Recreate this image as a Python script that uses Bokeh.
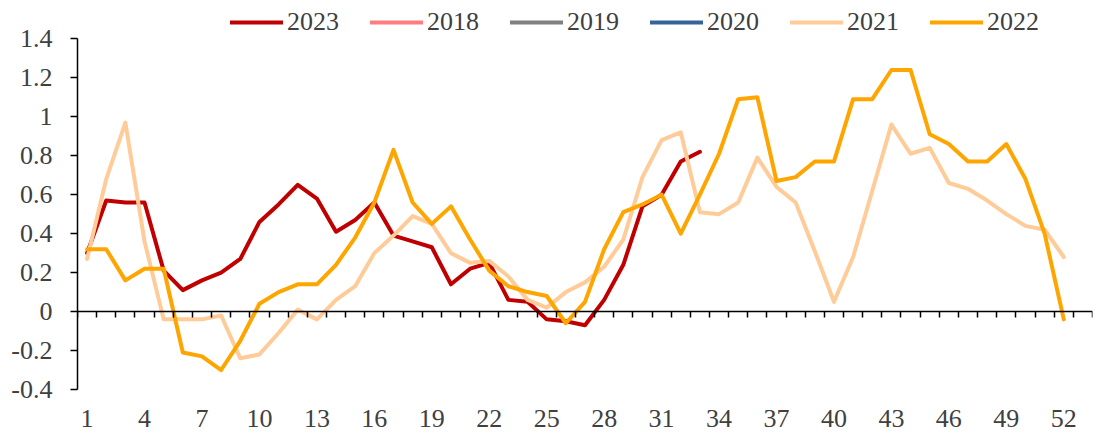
from bokeh.plotting import figure
from bokeh.models import (Range1d, FixedTicker, LinearAxis, Legend, LegendItem,
                          CustomJSTickFormatter, CustomLabelingPolicy,
                          ColumnDataSource)
from bokeh.embed import file_html
from bokeh.resources import INLINE

# ---- data ----
n_weeks = 53
x_tick_labels = list(range(1, 53, 3))          # 1, 4, ..., 52
y_ticks = [-0.4, -0.2, 0, 0.2, 0.4, 0.6, 0.8, 1.0, 1.2, 1.4]

y2023 = [0.30, 0.57, 0.56, 0.56, 0.21, 0.11, 0.16, 0.20, 0.27, 0.46,
         0.55, 0.65, 0.58, 0.41, 0.47, 0.56, 0.39, 0.36, 0.33, 0.14,
         0.22, 0.25, 0.06, 0.05, -0.04, -0.05, -0.07, 0.06, 0.24, 0.54,
         0.60, 0.77, 0.82]
y2018 = []
y2019 = []
y2020 = []
y2021 = [0.27, 0.68, 0.97, 0.36, -0.04, -0.04, -0.04, -0.02, -0.24, -0.22,
         -0.11, 0.01, -0.04, 0.06, 0.13, 0.30, 0.39, 0.49, 0.45, 0.30,
         0.25, 0.26, 0.18, 0.06, 0.02, 0.10, 0.15, 0.23, 0.37, 0.69,
         0.88, 0.92, 0.51, 0.50, 0.56, 0.79, 0.64, 0.56, 0.31, 0.05,
         0.28, 0.62, 0.96, 0.81, 0.84, 0.66, 0.63, 0.57, 0.50, 0.44,
         0.42, 0.28]
y2022 = [0.32, 0.32, 0.16, 0.22, 0.22, -0.21, -0.23, -0.30, -0.15, 0.04,
         0.10, 0.14, 0.14, 0.24, 0.38, 0.56, 0.83, 0.56, 0.45, 0.54,
         0.37, 0.21, 0.13, 0.10, 0.08, -0.06, 0.05, 0.32, 0.51, 0.55,
         0.60, 0.40, 0.60, 0.81, 1.09, 1.10, 0.67, 0.69, 0.77, 0.77,
         1.09, 1.09, 1.24, 1.24, 0.91, 0.86, 0.77, 0.77, 0.86, 0.68,
         0.40, -0.04]

series = [("2023", y2023, "#C00000"),
          ("2018", y2018, "#FF7C80"),
          ("2019", y2019, "#808080"),
          ("2020", y2020, "#35649C"),
          ("2021", y2021, "#FFCC99"),
          ("2022", y2022, "#FFA500")]

FONT = "Liberation Serif"
TXT = "#404040"
FS = "26px"

p = figure(width=1096, height=432,
           x_range=Range1d(0.5, n_weeks + 0.5), y_range=Range1d(-0.4, 1.5966),
           output_backend="svg", toolbar_location=None,
           min_border_left=77, min_border_right=4, min_border_top=0,
           min_border_bottom=43)
p.outline_line_color = None
p.grid.visible = False
p.background_fill_color = "white"

# bottom axis: labels only
xa = p.xaxis[0]
xa.ticker = FixedTicker(ticks=x_tick_labels, minor_ticks=[])
xa.axis_line_color = None
xa.major_tick_line_color = None
xa.minor_tick_line_color = None
xa.major_tick_out = 0
xa.major_tick_in = 0
xa.major_label_standoff = 20
xa.major_label_text_font = FONT
xa.major_label_text_font_size = FS
xa.major_label_text_color = TXT

# axis line at y = 0 with ticks at category boundaries (no labels)
boundaries = [w - 0.5 for w in range(1, n_weeks + 2)]
no_labels = CustomLabelingPolicy(code="""
for (const i of Array.from(indices)) { indices.unset(i) }
return indices
""")
za = LinearAxis(fixed_location=0,
                ticker=FixedTicker(ticks=boundaries, minor_ticks=[]),
                major_label_policy=no_labels,
                major_tick_in=0, major_tick_out=6,
                major_label_standoff=0,
                axis_line_color="black", axis_line_width=1.5,
                major_tick_line_color="black", major_tick_line_width=1.5,
                minor_tick_line_color=None)
p.add_layout(za, "below")

ya = p.yaxis[0]
ya.ticker = FixedTicker(ticks=y_ticks, minor_ticks=[])
ya.bounds = (-0.4, 1.4)
ya.formatter = CustomJSTickFormatter(code="return (Math.round(tick*10)/10).toString();")
ya.axis_line_color = "black"
ya.axis_line_width = 1.5
ya.major_tick_line_color = "black"
ya.major_tick_line_width = 1.5
ya.major_tick_out = 7
ya.major_tick_in = 0
ya.minor_tick_line_color = None
ya.major_label_standoff = 18
ya.major_label_text_font = FONT
ya.major_label_text_font_size = FS
ya.major_label_text_color = TXT

items = []
for name, vals, color in series:
    xs = list(range(1, len(vals) + 1)) if vals else [1]
    ys = vals if vals else [float("nan")]
    src = ColumnDataSource(dict(x=xs, y=ys))
    r = p.line("x", "y", source=src, line_color=color, line_width=4,
               line_join="round", line_cap="round")
    items.append(LegendItem(label=name, renderers=[r]))

legend = Legend(items=items, orientation="horizontal", location=(153, 352),
                padding=0, margin=0, spacing=31, glyph_width=53, glyph_height=26,
                label_standoff=4, label_height=26,
                label_text_font=FONT, label_text_font_size=FS,
                label_text_color=TXT, border_line_color=None,
                background_fill_alpha=0)
p.add_layout(legend, "center")

open("out.html", "w").write(file_html(p, INLINE))
